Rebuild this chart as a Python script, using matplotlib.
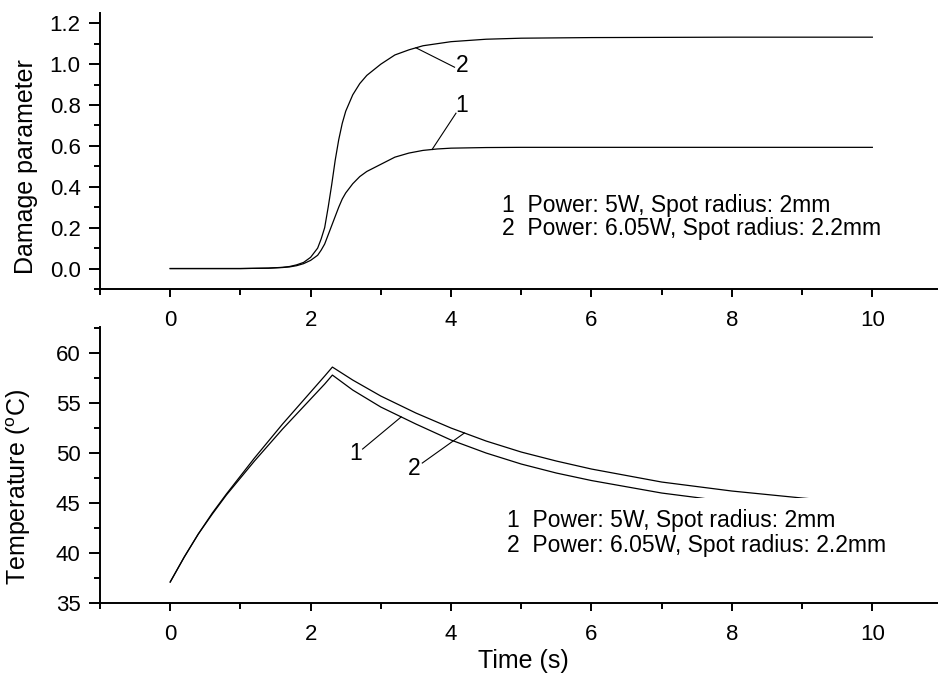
import numpy as np
import matplotlib.pyplot as plt
from matplotlib.ticker import MultipleLocator

plt.rcParams['font.family'] = ['Liberation Sans', 'DejaVu Sans']
plt.rcParams['mathtext.fontset'] = 'custom'
plt.rcParams['mathtext.rm'] = 'Liberation Sans'
plt.rcParams['font.size'] = 16

# damage parameter vs time
t_dmg = [0, 1.0, 1.4, 1.6, 1.7, 1.8, 1.9, 2.0, 2.1, 2.15, 2.2, 2.25, 2.3, 2.35, 2.4,
         2.45, 2.5, 2.6, 2.7, 2.8, 3.0, 3.2, 3.4, 3.6, 3.8, 4.0, 4.5, 5.0, 6.0, 7.0,
         8.0, 10.0]
dmg_1 = [0, 0, 0.002, 0.005, 0.008, 0.014, 0.024, 0.04, 0.065, 0.09, 0.12, 0.165,
         0.21, 0.255, 0.30, 0.34, 0.37, 0.415, 0.45, 0.475, 0.51, 0.545, 0.565, 0.578,
         0.585, 0.589, 0.592, 0.593, 0.593, 0.593, 0.593, 0.593]
dmg_2 = [0, 0, 0.002, 0.006, 0.01, 0.018, 0.03, 0.055, 0.10, 0.145, 0.20, 0.30, 0.41,
         0.53, 0.63, 0.71, 0.77, 0.85, 0.905, 0.945, 1.00, 1.045, 1.07, 1.09, 1.10,
         1.11, 1.122, 1.127, 1.13, 1.131, 1.132, 1.132]

# temperature vs time
t_temp = [0, 0.2, 0.4, 0.6, 0.8, 1.0, 1.2, 1.4, 1.6, 1.8, 2.0, 2.2, 2.31,
          2.6, 3.0, 3.5, 4.0, 4.5, 5.0, 5.5, 6.0, 7.0, 8.0, 9.0, 10.0]
temp_1 = [37.1, 39.6, 41.9, 43.9, 45.8, 47.5, 49.2, 50.8, 52.4, 53.9, 55.4, 56.9, 57.8,
          56.3, 54.6, 52.9, 51.3, 50.0, 48.9, 48.0, 47.25, 46.0, 45.1, 44.4, 43.8]
temp_2 = [37.1, 39.6, 41.9, 44.0, 45.9, 47.7, 49.5, 51.2, 52.9, 54.5, 56.1, 57.7, 58.6,
          57.3, 55.7, 54.0, 52.5, 51.2, 50.1, 49.2, 48.4, 47.1, 46.2, 45.5, 44.9]

legend_lines = ['1  Power: 5W, Spot radius: 2mm', '2  Power: 6.05W, Spot radius: 2.2mm']

fig = plt.figure(figsize=(9.38, 6.73), dpi=100)
ax1 = fig.add_axes([0.1066, 0.5706, 0.893, 0.410])
ax2 = fig.add_axes([0.1066, 0.104, 0.893, 0.410])

for ax in (ax1, ax2):
    ax.spines['top'].set_visible(False)
    ax.spines['right'].set_visible(False)
    for s in ('left', 'bottom'):
        ax.spines[s].set_linewidth(1.4)
    ax.set_xlim(-1, 10.93)
    ax.xaxis.set_major_locator(MultipleLocator(2))
    ax.xaxis.set_minor_locator(MultipleLocator(1))
    ax.tick_params(axis='x', which='major', direction='out', length=6, width=1.4, pad=9)
    ax.tick_params(axis='x', which='minor', direction='out', length=4, width=1.4)
    ax.tick_params(axis='y', which='major', direction='out', length=8, width=1.4, pad=6)
    ax.tick_params(axis='y', which='minor', direction='out', length=4, width=1.4)

# top panel
ax1.plot(t_dmg, dmg_1, color='black', lw=0.9)
ax1.plot(t_dmg, dmg_2, color='black', lw=0.9)
ax1.set_ylim(-0.1, 1.25)
ax1.yaxis.set_major_locator(MultipleLocator(0.2))
ax1.yaxis.set_minor_locator(MultipleLocator(0.1))
ax1.set_yticks([0, 0.2, 0.4, 0.6, 0.8, 1.0, 1.2])
ax1.set_ylabel('Damage parameter', fontsize=18)
ax1.yaxis.set_label_coords(-0.074, 0.442)
ax1.plot([3.50, 4.05], [np.interp(3.50, t_dmg, dmg_2), 0.985], color='black', lw=0.8)
ax1.text(4.16, 0.995, '2', ha='center', va='center', fontsize=16.5)
ax1.plot([3.73, 4.07], [np.interp(3.73, t_dmg, dmg_1), 0.76], color='black', lw=0.8)
ax1.text(4.15, 0.80, '1', ha='center', va='center', fontsize=16.5)
ax1.text(4.72, 0.31, legend_lines[0], ha='left', va='center', fontsize=16.5)
ax1.text(4.72, 0.197, legend_lines[1], ha='left', va='center', fontsize=16.5)

# bottom panel
ax2.plot(t_temp, temp_1, color='black', lw=0.9)
ax2.plot(t_temp, temp_2, color='black', lw=0.9)
ax2.set_ylim(35, 62.6)
ax2.yaxis.set_major_locator(MultipleLocator(5))
ax2.yaxis.set_minor_locator(MultipleLocator(2.5))
ax2.set_ylabel('Temperature ($^{\\rm o}$C)', fontsize=18)
ax2.yaxis.set_label_coords(-0.080, 0.42)
ax2.set_xlabel('Time (s)', fontsize=18)
ax2.xaxis.set_label_coords(0.505, -0.165)
ax2.xaxis.label.set_va('top')
ax2.plot([3.29, 2.74], [np.interp(3.29, t_temp, temp_1), 50.4], color='black', lw=0.8)
ax2.text(2.64, 50.0, '1', ha='center', va='center', fontsize=16.5)
ax2.plot([4.19, 3.59], [np.interp(4.19, t_temp, temp_2), 49.0], color='black', lw=0.8)
ax2.text(3.48, 48.5, '2', ha='center', va='center', fontsize=16.5)
ax2.text(4.79, 42.0, legend_lines[0] + '\n' + legend_lines[1], ha='left', va='center',
         fontsize=16.5, linespacing=1.08, zorder=5,
         bbox=dict(facecolor='white', edgecolor='none', pad=8))

fig.savefig('out.png', dpi=100)
